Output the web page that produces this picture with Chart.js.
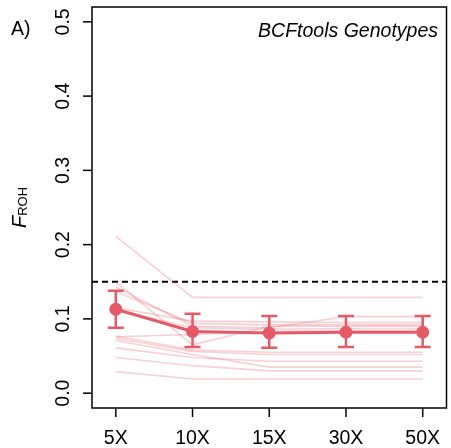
<!DOCTYPE html>
<html>
<head>
<meta charset="utf-8">
<script src="https://cdn.jsdelivr.net/npm/chart.js@4/dist/chart.umd.min.js"></script>
<style>
  html, body { margin: 0; padding: 0; background: #fff; overflow: hidden; }
  canvas { display: block; }
</style>
</head>
<body>
<canvas id="frohChart" width="453" height="448"></canvas>
<script>
// coverage levels on the x axis
const categories = ['5X', '10X', '15X', '30X', '50X'];

// mean F_ROH and error bar limits per coverage
const meanFroh = [0.113, 0.083, 0.081, 0.082, 0.082];
const errLow   = [0.088, 0.062, 0.061, 0.062, 0.062];
const errHigh  = [0.138, 0.107, 0.104, 0.104, 0.104];

// per-sample F_ROH (faint lines)
const sample01 = [0.211, 0.129, 0.129, 0.129, 0.129];
const sample02 = [0.150, 0.065, 0.090, 0.090, 0.090];
const sample03 = [0.143, 0.090, 0.088, 0.103, 0.103];
const sample04 = [0.137, 0.094, 0.092, 0.092, 0.092];
const sample05 = [0.115, 0.097, 0.096, 0.095, 0.095];
const sample06 = [0.112, 0.088, 0.086, 0.087, 0.087];
const sample07 = [0.076, 0.079, 0.083, 0.084, 0.084];
const sample08 = [0.077, 0.058, 0.055, 0.055, 0.055];
const sample09 = [0.074, 0.056, 0.052, 0.052, 0.052];
const sample10 = [0.071, 0.052, 0.035, 0.035, 0.035];
const sample11 = [0.061, 0.048, 0.043, 0.043, 0.043];
const sample12 = [0.048, 0.037, 0.030, 0.030, 0.030];
const sample13 = [0.029, 0.019, 0.019, 0.019, 0.019];
const samples = [sample01, sample02, sample03, sample04, sample05, sample06, sample07,
                 sample08, sample09, sample10, sample11, sample12, sample13];

const yTicks = [0, 0.1, 0.2, 0.3, 0.4, 0.5];
const yTickLabels = ['0.0', '0.1', '0.2', '0.3', '0.4', '0.5'];
const threshold = 0.15;

const mainCol = '#e45a66';
const faintCol = 'rgba(232, 100, 112, 0.3)';
const FONT = '"Liberation Sans", Arial, Helvetica, sans-serif';

const toPoints = arr => arr.map((v, i) => ({ x: i + 1, y: v }));

const datasets = samples.map(s => ({
    data: toPoints(s),
    borderColor: faintCol,
    borderWidth: 1.6,
    pointRadius: 0,
    tension: 0
}));
datasets.push({
    data: toPoints(meanFroh),
    borderColor: mainCol,
    backgroundColor: mainCol,
    borderWidth: 3,
    pointRadius: 6.5,
    pointBorderWidth: 0,
    tension: 0
});

/* -------- axes, error bars, text -------- */
const decorPlugin = {
    id: 'decor',
    beforeDatasetsDraw(chart) {
        const { ctx, chartArea, scales } = chart;
        const y = scales.y.getPixelForValue(threshold);
        ctx.save();
        ctx.strokeStyle = '#000';
        ctx.lineWidth = 2;
        ctx.setLineDash([6, 4]);
        ctx.beginPath();
        ctx.moveTo(chartArea.left, y);
        ctx.lineTo(chartArea.right, y);
        ctx.stroke();
        ctx.restore();
    },
    afterDatasetsDraw(chart) {
        const { ctx, scales } = chart;
        ctx.save();
        ctx.strokeStyle = mainCol;
        ctx.lineWidth = 2.5;
        categories.forEach((c, i) => {
            const x = scales.x.getPixelForValue(i + 1);
            const y1 = scales.y.getPixelForValue(errLow[i]);
            const y2 = scales.y.getPixelForValue(errHigh[i]);
            ctx.beginPath();
            ctx.moveTo(x, y1); ctx.lineTo(x, y2);
            ctx.moveTo(x - 8, y1); ctx.lineTo(x + 8, y1);
            ctx.moveTo(x - 8, y2); ctx.lineTo(x + 8, y2);
            ctx.stroke();
        });
        ctx.restore();
    },
    afterDraw(chart) {
        const { ctx, chartArea: a, scales } = chart;
        ctx.save();
        ctx.strokeStyle = '#000';
        ctx.lineWidth = 1.5;
        ctx.strokeRect(a.left, a.top, a.right - a.left, a.bottom - a.top);

        ctx.fillStyle = '#000';
        ctx.font = '19.5px ' + FONT;

        // y ticks + rotated labels
        yTicks.forEach((t, i) => {
            const y = scales.y.getPixelForValue(t);
            ctx.beginPath();
            ctx.moveTo(a.left, y); ctx.lineTo(a.left - 9, y);
            ctx.stroke();
            ctx.save();
            ctx.translate(69, y);
            ctx.rotate(-Math.PI / 2);
            ctx.textAlign = 'center';
            ctx.textBaseline = 'alphabetic';
            ctx.fillText(yTickLabels[i], 0, 0);
            ctx.restore();
        });

        // x ticks + labels
        ctx.textAlign = 'center';
        ctx.textBaseline = 'alphabetic';
        categories.forEach((c, i) => {
            const x = scales.x.getPixelForValue(i + 1);
            ctx.beginPath();
            ctx.moveTo(x, a.bottom); ctx.lineTo(x, a.bottom + 9);
            ctx.stroke();
            ctx.fillText(c, x, 444);
        });

        // panel letter
        ctx.textAlign = 'left';
        ctx.fillText('A)', 11, 35);

        // title
        ctx.font = 'italic 19.5px ' + FONT;
        ctx.textAlign = 'right';
        ctx.fillText('BCFtools Genotypes', 438, 37);

        // y axis title F_ROH
        ctx.save();
        ctx.translate(26, (a.top + a.bottom) / 2);
        ctx.rotate(-Math.PI / 2);
        ctx.font = 'italic 20px ' + FONT;
        const fW = ctx.measureText('F').width;
        ctx.font = '13px ' + FONT;
        const sW = ctx.measureText('ROH').width;
        const start = -(fW + sW) / 2;
        ctx.textAlign = 'left';
        ctx.font = 'italic 20px ' + FONT;
        ctx.fillText('F', start, 0);
        ctx.font = '13px ' + FONT;
        ctx.fillText('ROH', start + fW, 1);
        ctx.restore();

        ctx.restore();
    }
};

new Chart(document.getElementById('frohChart').getContext('2d'), {
    type: 'line',
    data: { datasets },
    options: {
        responsive: false,
        animation: false,
        devicePixelRatio: 1,
        layout: { padding: { left: 92, top: 7, right: 0, bottom: 40 } },
        plugins: { legend: { display: false }, tooltip: { enabled: false } },
        scales: {
            x: { type: 'linear', min: 0.69, max: 5.31, display: false },
            y: { type: 'linear', min: -0.02, max: 0.52, display: false }
        }
    },
    plugins: [decorPlugin]
});
</script>
</body>
</html>
